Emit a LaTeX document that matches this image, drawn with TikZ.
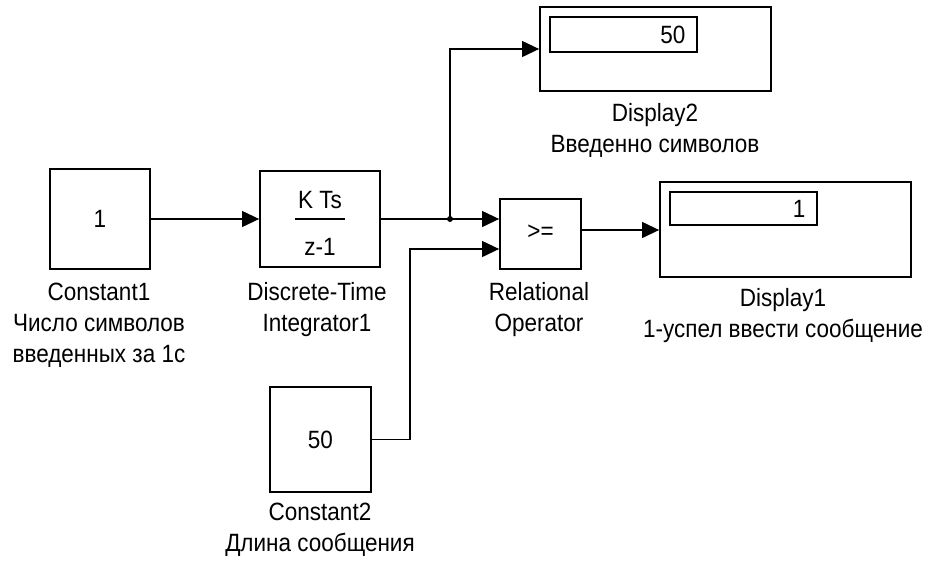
\documentclass[tikz,border=0pt]{standalone}
\usepackage{fontspec}
\setmainfont{Liberation Sans}[FakeStretch=0.9]
\usetikzlibrary{arrows.meta}
\begin{document}
\begin{tikzpicture}[x=1pt,y=-1pt,
  every node/.style={font=\fontsize{25}{31}\selectfont},
  blk/.style={draw=black, line width=1.8pt, inner sep=0pt, fill=white},
  field/.style={draw=black, line width=1.4pt, inner sep=0pt},
  lbl/.style={anchor=north, align=center, inner sep=0pt},
  wire/.style={line width=1.2pt, -{Triangle[length=17pt,width=16pt]}},
  plain/.style={line width=1.2pt}]
\useasboundingbox (0,0) rectangle (927,563);
% blocks
\node[blk, minimum width=100pt, minimum height=100pt] (const1) at (100,219) {};
\node (c1val) at (const1.center) {1};
\node[blk, minimum width=120pt, minimum height=96pt] (integ) at (320,219) {};
\node (kts) at (320,200) {K Ts};
\node (zm1) at (320,247) {z-1};
\draw[line width=1.3pt] (295,219) -- (345,219);
\node[blk, minimum width=81pt, minimum height=70pt] (rel) at (540.5,234) {};
\node (ge) at (540.5,232) {>=};
\node[blk, minimum width=231pt, minimum height=84pt] (disp2) at (655.5,49) {};
\node[field, minimum width=147pt, minimum height=35pt] (f2) at (623.5,34.5) {};
\node[anchor=east] (v2) at (689,34.5) {50};
\node[blk, minimum width=251pt, minimum height=95pt] (disp1) at (785.5,229.5) {};
\node[field, minimum width=147pt, minimum height=33pt] (f1) at (743.5,208.5) {};
\node[anchor=east] (v1) at (809,208.5) {1};
\node[blk, minimum width=101pt, minimum height=105pt] (const2) at (320.5,439.5) {};
\node (c2val) at (320.5,440) {50};
% labels
\node[lbl] (l1) at (99,283) {Constant1\\Число символов\\введенных за 1с};
\node[lbl] (l2) at (317,282) {Discrete-Time\\Integrator1};
\node[lbl] (l3) at (539,282) {Relational\\Operator};
\node[lbl] (l4) at (655,103) {Display2\\Введенно символов};
\node[lbl] (l5) at (783,288) {Display1\\1-успел ввести сообщение};
\node[lbl] (l6) at (320,503) {Constant2\\Длина сообщения};
% ports
\coordinate (j) at (450,219);
\coordinate (relin1) at (rel.west |- j);
\coordinate (relin2) at ([yshift=-15pt]rel.west);
\coordinate (relout) at ([yshift=4pt]rel.east);
\coordinate (c2turn) at (410,0);
% connectors
\draw[wire] (const1.east) -- (integ.west);
\draw[plain] (integ.east) -- (j);
\draw[wire] (j) -- (relin1);
\draw[wire] (j) |- (disp2.west);
\fill (j) circle (3pt);
\draw[wire] (const2.east) -- (const2.east -| c2turn) -- (c2turn |- relin2) -- (relin2);
\draw[wire] (relout) -- (relout -| disp1.west);
\end{tikzpicture}
\end{document}
